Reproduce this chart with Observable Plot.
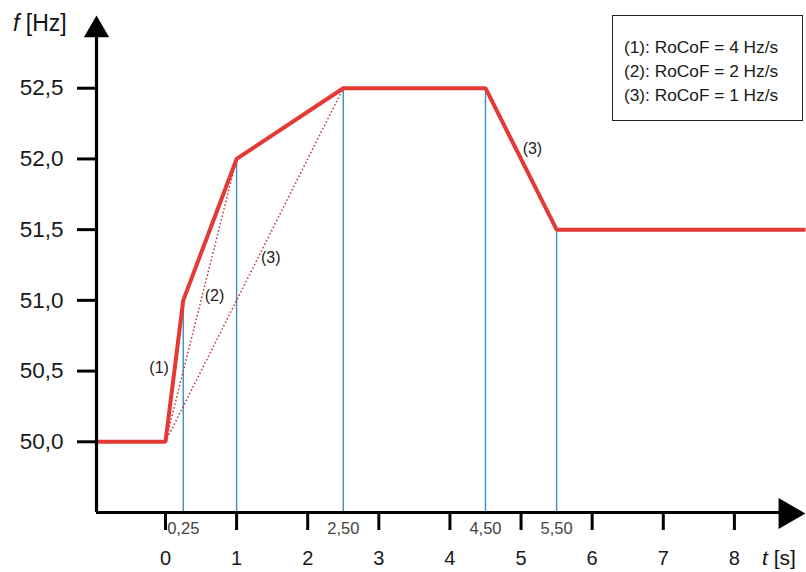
<!DOCTYPE html>
<html>
<head>
<meta charset="utf-8">
<script src="https://cdn.jsdelivr.net/npm/d3@7"></script>
<script src="https://cdn.jsdelivr.net/npm/@observablehq/plot@0.6"></script>
<style>
  html, body { margin: 0; padding: 0; background: #fff; }
  #wrap { position: relative; width: 806px; height: 572px; font-family: "Liberation Sans", Arial, sans-serif; color: #111; }
  #wrap svg { position: absolute; left: 0; top: 0; }
  .lbl { position: absolute; white-space: nowrap; line-height: 1; }
  #legend { position: absolute; left: 612px; top: 15px; width: 189px; height: 104px; border: 1.5px solid #222; background: #fff; }
  #legend div { position: absolute; left: 11px; font-size: 17.3px; line-height: 24px; color: #1a1a1a; white-space: nowrap; }
</style>
</head>
<body>
<div id="wrap"></div>
<script>
// ---- data ----
const curveT = [-0.97, 0, 0.25, 1, 2.5, 4.5, 5.5, 9.0];
const curveF = [50.0, 50.0, 51.0, 52.0, 52.5, 52.5, 51.5, 51.5];

const markerT = [0.25, 1, 2.5, 4.5, 5.5];
const markerF = [51.0, 52.0, 52.5, 52.5, 51.5];

const markerLabelT = [0.25, 2.5, 4.5, 5.5];
const markerLabels = ["0,25", "2,50", "4,50", "5,50"];

const rampStartT = 0, rampStartF = 50.0;
const rampEndT = [0.25, 1, 2.5];
const rampEndF = [51.0, 52.0, 52.5];

const curveLabels = ["(1)", "(2)", "(3)", "(3)"];
const curveLabelT = [-0.09, 0.69, 1.48, 5.16];
const curveLabelF = [50.52, 51.03, 51.30, 52.07];

const xTicks = [0, 1, 2, 3, 4, 5, 6, 7, 8];
const yTicks = [50.0, 50.5, 51.0, 51.5, 52.0, 52.5];

const legendLines = ["(1): RoCoF = 4 Hz/s", "(2): RoCoF = 2 Hz/s", "(3): RoCoF = 1 Hz/s"];

const xMin = -0.97, xMax = 9.0, yMin = 49.5, yMax = 53.0;

// ---- tables ----
const curve = curveT.map((t, i) => ({t, f: curveF[i]}));
const markers = markerT.map((t, i) => ({t, f: markerF[i]}));
const smallLabels = markerLabelT.map((t, i) => ({t, text: markerLabels[i]}));
const ramps = rampEndT.map((t, i) => ({t1: rampStartT, f1: rampStartF, t2: t, f2: rampEndF[i]}));
const cLabels = curveLabels.map((text, i) => ({text, t: curveLabelT[i], f: curveLabelF[i]}));

const comma = d => d3.format(".1f")(d).replace(".", ",");

const chart = Plot.plot({
  width: 806,
  height: 572,
  marginLeft: 96,
  marginRight: 1,
  marginTop: 17,
  marginBottom: 60,
  style: {fontFamily: '"Liberation Sans", Arial, sans-serif', background: "transparent", overflow: "visible", color: "#111"},
  x: {domain: [xMin, xMax], axis: null},
  y: {domain: [yMin, yMax], axis: null},
  marks: [
    // vertical blue markers
    Plot.ruleX(markers, {x: "t", y1: yMin, y2: "f", stroke: "#3b8fcc", strokeWidth: 1.4}),
    // dotted ramps
    Plot.link(ramps, {x1: "t1", y1: "f1", x2: "t2", y2: "f2", stroke: "#c0394a", strokeWidth: 1.5, strokeDasharray: "1.6,2.2"}),
    // main curve
    Plot.line(curve, {x: "t", y: "f", stroke: "#e53935", strokeWidth: 4, strokeLinejoin: "miter", strokeLinecap: "butt"}),
    // axis lines
    Plot.ruleX([xMin], {y1: yMin, y2: 52.93, stroke: "#000", strokeWidth: 3.2}),
    Plot.ruleY([yMin], {x1: xMin, x2: 8.7, stroke: "#000", strokeWidth: 3.2}),
    // arrow heads
    Plot.dot([0], {frameAnchor: "top-left", dy: 12.5, symbol: "triangle", r: 9.4, fill: "#000", stroke: null}),
    Plot.dot([0], {frameAnchor: "bottom-right", dx: -18, dy: 1, symbol: "triangle", rotate: 90, r: 11.5, fill: "#000", stroke: null}),
    // axes ticks & labels
    Plot.axisY(yTicks, {anchor: "left", tickSize: 19, tickPadding: 14, strokeWidth: 3, stroke: "#000", fontSize: 22.5, fill: "#1a1a1a", tickFormat: comma, label: null}),
    Plot.axisX(xTicks, {anchor: "bottom", tickSize: 18, tickPadding: 20, strokeWidth: 3, stroke: "#000", fontSize: 20, fill: "#1a1a1a", tickFormat: d => String(d), label: null}),
    // small marker labels
    Plot.text(smallLabels, {x: "t", frameAnchor: "bottom", dy: 21, text: "text", fontSize: 16.5, fill: "#444"}),
    // curve labels
    Plot.text(cLabels, {x: "t", y: "f", text: "text", fontSize: 16, fill: "#222"})
  ]
});

const wrap = document.getElementById("wrap");
wrap.appendChild(chart);

const fl = document.createElement("div");
fl.className = "lbl";
fl.style.left = "13px"; fl.style.top = "12px"; fl.style.fontSize = "23px";
fl.innerHTML = "<i>f</i> [Hz]";
wrap.appendChild(fl);

const tl = document.createElement("div");
tl.className = "lbl";
tl.style.left = "762px"; tl.style.top = "547px"; tl.style.fontSize = "21px";
tl.innerHTML = "<i>t</i> [s]";
wrap.appendChild(tl);

const leg = document.createElement("div");
leg.id = "legend";
legendLines.forEach((s, i) => {
  const d = document.createElement("div");
  d.textContent = s;
  d.style.top = (19 + i * 24) + "px";
  leg.appendChild(d);
});
wrap.appendChild(leg);
</script>
</body>
</html>
